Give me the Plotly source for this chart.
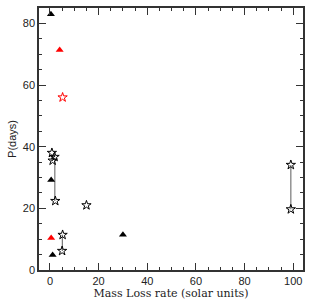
import plotly.graph_objects as go

# Data
black_tri_x = [0.4, 0.5, 1.1, 30.0]
black_tri_y = [83.0, 29.2, 4.9, 11.4]
red_tri_x = [4.0, 0.5]
red_tri_y = [71.4, 10.4]
red_star_x = [5.2]
red_star_y = [56.0]
black_star_x = [0.8, 1.9, 1.1, 2.2, 5.2, 5.0, 15.0, 99.0, 99.0]
black_star_y = [38.0, 36.7, 35.5, 22.4, 11.4, 6.2, 21.0, 34.1, 19.7]
range_x = [2.0, 5.1, 99.0]
range_hi = [36.0, 11.4, 34.1]
range_lo = [22.4, 6.2, 19.7]

x_range = [-4.5, 104]
y_range = [0, 85]

fig = go.Figure()

# vertical range lines
lx, ly = [], []
for x, hi, lo in zip(range_x, range_hi, range_lo):
    lx += [x, x, None]
    ly += [hi, lo, None]
fig.add_trace(go.Scatter(x=lx, y=ly, mode="lines",
                         line=dict(color="#777777", width=1.2), showlegend=False))

fig.add_trace(go.Scatter(x=black_star_x, y=black_star_y, mode="markers",
                         marker=dict(symbol="star-open", size=7, color="black",
                                     line=dict(width=1)), showlegend=False))
fig.add_trace(go.Scatter(x=red_star_x, y=red_star_y, mode="markers",
                         marker=dict(symbol="star-open", size=7, color="red",
                                     line=dict(width=1)), showlegend=False))
fig.add_trace(go.Scatter(x=black_tri_x, y=black_tri_y, mode="markers",
                         marker=dict(symbol="triangle-up", size=7, color="black"),
                         showlegend=False))
fig.add_trace(go.Scatter(x=red_tri_x, y=red_tri_y, mode="markers",
                         marker=dict(symbol="triangle-up", size=7, color="red"),
                         showlegend=False))
# invisible trace to activate mirror axes
fig.add_trace(go.Scatter(x=[None], y=[None], xaxis="x2", yaxis="y2",
                         showlegend=False, hoverinfo="skip"))

axis_common = dict(
    showgrid=False, zeroline=False, showline=True, linecolor="#333333", linewidth=1.5,
    ticks="inside", ticklen=7, tickcolor="#333333", tickwidth=1,
    tickfont=dict(family="Liberation Sans, Arial, sans-serif", size=11, color="#222222"),
    minor=dict(ticks="inside", ticklen=3.5, dtick=5, tickcolor="#333333", tickwidth=1),
)

fig.update_layout(
    width=312, height=305,
    margin=dict(l=39, r=9, t=8, b=35),
    plot_bgcolor="white", paper_bgcolor="white",
    xaxis=dict(range=x_range, dtick=20, tick0=0,
               title=dict(text="Mass Loss rate (solar units)", standoff=0,
                          font=dict(family="DejaVu Serif, serif", size=11, color="#222222")),
               **axis_common),
    yaxis=dict(range=y_range, dtick=20, tick0=0,
               title=dict(text="P(days)", standoff=4,
                          font=dict(family="Liberation Sans, Arial, sans-serif", size=11, color="#222222")),
               **axis_common),
    xaxis2=dict(range=x_range, dtick=20, tick0=0, overlaying="x", side="top",
                showticklabels=False, **axis_common),
    yaxis2=dict(range=y_range, dtick=20, tick0=0, overlaying="y", side="right",
                showticklabels=False, **axis_common),
)

fig.write_html("out.html")
